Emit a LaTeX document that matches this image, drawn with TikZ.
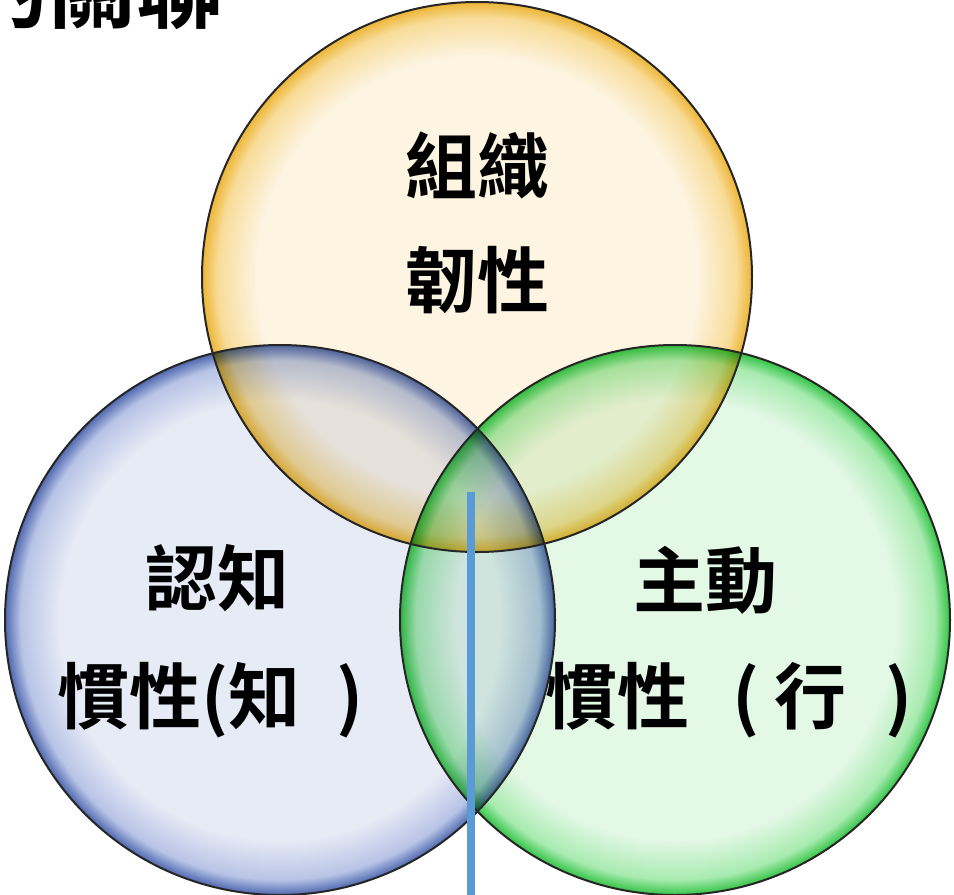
\documentclass[tikz,border=0pt]{standalone}
\usepackage{fontspec}
\newfontfamily\cjk{Noto Sans CJK TC Medium}
\newfontfamily\cjkb{Noto Sans CJK TC Bold}
\usetikzlibrary{calc}
\definecolor{ycore}{HTML}{FDF4E2}
\definecolor{ymid}{HTML}{F8DC98}
\definecolor{yedge}{HTML}{EDB535}
\definecolor{bcore}{HTML}{E7EBF6}
\definecolor{bmid}{HTML}{B8C4E6}
\definecolor{bedge}{HTML}{4F68B0}
\definecolor{gcore}{HTML}{E4F8E6}
\definecolor{gmid}{HTML}{A8EBB0}
\definecolor{gedge}{HTML}{34C447}
\definecolor{barblue}{HTML}{5B9BD5}
\pgfdeclareradialshading{ysh}{\pgfpoint{0bp}{0bp}}{color(0bp)=(ycore); color(20bp)=(ycore); color(23.6bp)=(ymid); color(25bp)=(yedge); color(50bp)=(yedge)}
\pgfdeclareradialshading{bsh}{\pgfpoint{0bp}{0bp}}{color(0bp)=(bcore); color(20bp)=(bcore); color(23.6bp)=(bmid); color(25bp)=(bedge); color(50bp)=(bedge)}
\pgfdeclareradialshading{gsh}{\pgfpoint{0bp}{0bp}}{color(0bp)=(gcore); color(20bp)=(gcore); color(23.6bp)=(gmid); color(25bp)=(gedge); color(50bp)=(gedge)}
\tikzset{
  ring/.style={draw=black!85, line width=2pt},
  lbl/.style={font=\cjkb\fontsize{72}{86}\selectfont, text=black, inner sep=0pt},
}
\begin{document}
\begin{tikzpicture}[x=1pt,y=-1pt]
\useasboundingbox (0,0) rectangle (954,895);
\coordinate (cy) at (477,277);
\coordinate (cb) at (280,620);
\coordinate (cg) at (675,620);
\begin{scope}
\clip (0,0) rectangle (954,895);
\begin{scope}[blend group=multiply]
\shade[shading=ysh] (cy) circle[radius=275];
\shade[shading=bsh] (cb) circle[radius=275];
\shade[shading=gsh] (cg) circle[radius=275];
\end{scope}
\draw[ring] (cy) circle[radius=275];
\draw[ring] (cb) circle[radius=275];
\draw[ring] (cg) circle[radius=275];
\end{scope}
\begin{scope}
\clip (0,0) rectangle (260,28);
\node[font=\cjkb\fontsize{88}{100}\selectfont, anchor=base east, inner sep=0pt] (ttl) at (225,21) {的關聯};
\end{scope}
\node[lbl] (t1) at (477,165) {組織};
\node[lbl] (t2) at (477,280) {韌性};
\node[lbl] (l1) at (217,578) {認知};
\node[lbl, anchor=west] (l2) at (57,700) {慣性(知\hspace{0.5em})};
\node[lbl] (r1) at (705,580) {主動};
\node[lbl, anchor=west] (r2) at (545,700) {慣性\hspace{0.6em}(\hspace{0.2em}行\hspace{0.55em})};
\coordinate (vt) at (471,492);
\coordinate (vb) at (471,895);
\draw[barblue, line width=8pt] (vt) -- (vb);
\end{tikzpicture}
\end{document}
